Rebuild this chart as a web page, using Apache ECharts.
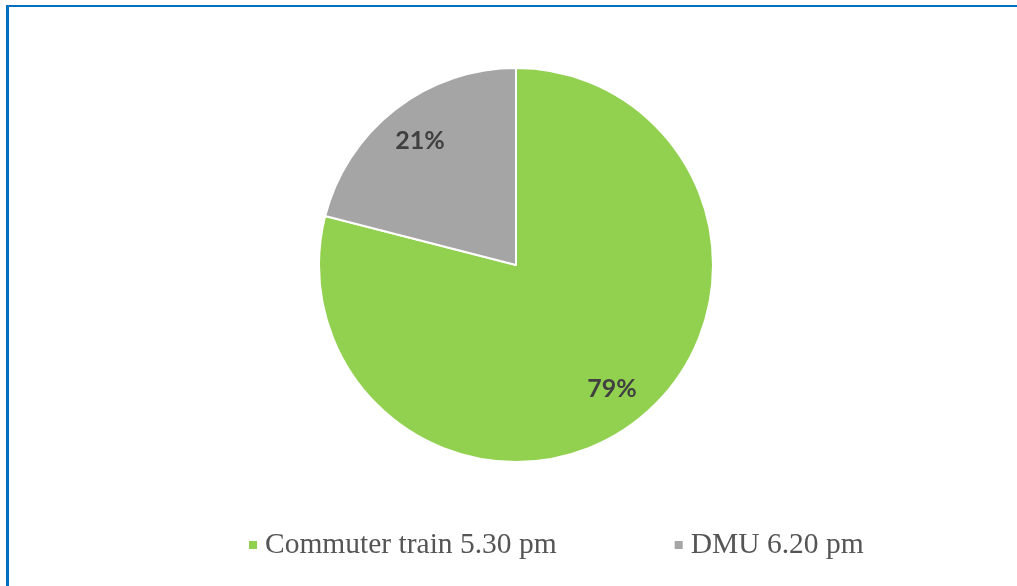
<!DOCTYPE html>
<html>
<head>
<meta charset="utf-8">
<script src="https://cdn.jsdelivr.net/npm/echarts@6/dist/echarts.min.js"></script>
<style>
  html, body { margin: 0; padding: 0; background: #fff; overflow: hidden; }
  #wrap { position: relative; width: 1017px; height: 586px; }
  #frame { position: absolute; left: 6px; top: 5px; width: 1100px; height: 700px;
           border-top: 2px solid #0070C0; border-left: 3px solid #0070C0; box-sizing: border-box; }
  #chart { position: absolute; left: 0; top: 0; width: 1017px; height: 586px; }
</style>
</head>
<body>
<div id="wrap">
  <div id="frame"></div>
  <div id="chart"></div>
</div>
<script>
// Departures share by service
const categories = ['Commuter train 5.30 pm', 'DMU 6.20 pm'];
const shares = [79, 21];
const sliceColors = ['#92D050', '#A5A5A5'];

const pieData = categories.map((name, i) => ({ name: name, value: shares[i] }));

const chart = echarts.init(document.getElementById('chart'), null, { renderer: 'canvas' });
chart.setOption({
  animation: false,
  color: sliceColors,
  legend: {
    data: categories,
    left: 242,
    top: 525,
    icon: 'rect',
    itemWidth: 10,
    itemHeight: 10,
    itemGap: 116,
    textStyle: { fontFamily: 'Liberation Serif', fontSize: 29.5, color: '#555555', padding: [0, 0, 0, 2] }
  },
  series: [
    {
      type: 'pie',
      center: [516, 265],
      radius: [0, 197],
      startAngle: 90,
      clockwise: true,
      data: pieData,
      itemStyle: { borderColor: '#ffffff', borderWidth: 2 },
      label: { show: false },
      labelLine: { show: false },
      emphasis: { disabled: true }
    },
    {
      // transparent ring that only carries the percentage labels further out
      type: 'pie',
      center: [516, 265],
      radius: [110, 197],
      startAngle: 90,
      clockwise: true,
      silent: true,
      data: pieData,
      itemStyle: { color: 'rgba(0,0,0,0)', borderWidth: 0 },
      label: {
        show: true,
        position: 'inside',
        formatter: '{d}%',
        fontFamily: 'Lato',
        fontWeight: 'bold',
        fontSize: 25,
        color: '#404040'
      },
      labelLine: { show: false },
      emphasis: { disabled: true }
    }
  ]
});
</script>
</body>
</html>
